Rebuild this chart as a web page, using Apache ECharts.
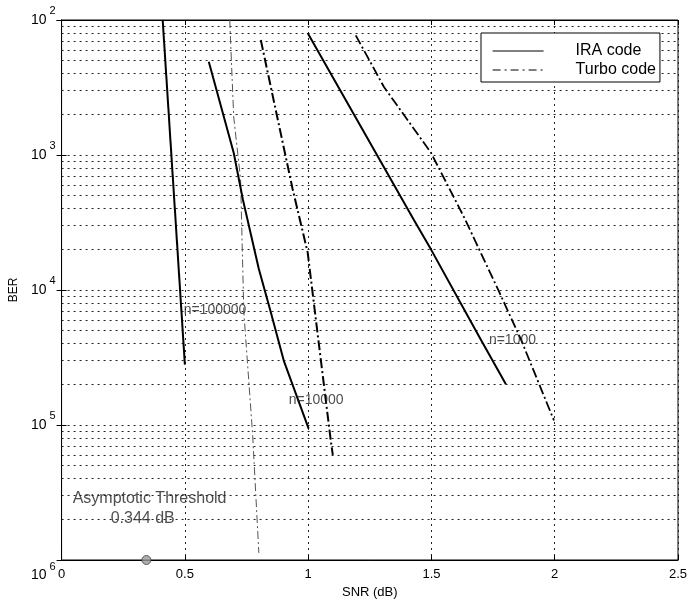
<!DOCTYPE html>
<html>
<head>
<meta charset="utf-8">
<script src="https://cdn.jsdelivr.net/npm/echarts@6/dist/echarts.min.js"></script>
<style>
html,body{margin:0;padding:0;background:#fff;}
#chart{width:691px;height:604px;}
</style>
</head>
<body>
<div id="chart"></div>
<script>
// ---- data ----
const snrIRA100k = [0.41, 0.50];
const berIRA100k = [1.0e-2, 2.8e-5];

const snrIRA10k = [0.597, 0.698, 0.735, 0.800, 0.848, 0.901, 1.002];
const berIRA10k = [4.9e-3, 1.04e-3, 4.7e-4, 1.43e-4, 6.9e-5, 3.0e-5, 9.4e-6];

const snrIRA1k = [0.998, 1.429, 1.498, 1.700, 1.802];
const berIRA1k = [8.0e-3, 3.3e-4, 2.0e-4, 4.3e-5, 2.0e-5];

const snrTurbo100k = [0.682, 0.698, 0.726, 0.739, 0.775, 0.800];
const berTurbo100k = [1.0e-2, 1.92e-3, 6.6e-4, 6.9e-5, 8.4e-6, 1.13e-6];

const snrTurbo10k = [0.808, 0.937, 0.998, 1.031, 1.092, 1.100];
const berTurbo10k = [7.1e-3, 5.6e-4, 1.9e-4, 6.1e-5, 7.6e-6, 6.0e-6];

const snrTurbo1k = [1.193, 1.307, 1.498, 1.631, 1.769, 1.863, 1.997];
const berTurbo1k = [7.7e-3, 3.2e-3, 1.04e-3, 3.5e-4, 1.02e-4, 4.3e-5, 1.08e-5];

const thresholdSNR = [0.344];
const thresholdBER = [1e-6];

const annotationTexts = ['n=100000', 'n=10000', 'n=1000', 'Asymptotic Threshold', '0.344 dB'];
const annotationX = [0.495, 0.921, 1.733, 0.045, 0.199];
const annotationY = [7.1e-5, 1.52e-5, 4.28e-5, 2.87e-6, 2.01e-6];

const xTicks = [0, 0.5, 1, 1.5, 2, 2.5];
const yMajorExponents = [2, 3, 4, 5, 6];   // shown as in the picture: 10^2 ... 10^6
const minorMantissas = [2, 3, 4, 5, 6, 7, 8, 9];
const minorDecades = [1e-6, 1e-5, 1e-4, 1e-3];

// ---- build ----
const pairs = (xs, ys) => xs.map((x, i) => [x, ys[i]]);
const minorGridValues = [];
minorDecades.forEach(d => minorMantissas.forEach(m => minorGridValues.push(+(m * d).toPrecision(3))));
const xMin = xTicks[0], xMax = xTicks[xTicks.length - 1];

const FONT = 'Liberation Sans, Arial, sans-serif';
const dashDot = [10, 3, 2, 3];
const gridDot = [2, 4];
const hiddenSymbol = {color: 'rgba(0,0,0,0)', borderWidth: 0, opacity: 0};

function lineSeries(name, xs, ys, width, type, color) {
  return {
    name: name, type: 'line', data: pairs(xs, ys), symbol: 'none',
    itemStyle: {color: color},
    lineStyle: {width: width, type: type, color: color}, z: 5, silent: true
  };
}

const chart = echarts.init(document.getElementById('chart'), null, {renderer: 'canvas'});
chart.setOption({
  animation: false,
  backgroundColor: '#fff',
  textStyle: {fontFamily: FONT},
  grid: {left: 61, top: 20, right: 13, bottom: 42, show: true, borderColor: '#000', borderWidth: 1, backgroundColor: 'transparent'},
  legend: {
    left: 481, top: 33, orient: 'vertical',
    backgroundColor: '#fff', borderColor: '#000', borderWidth: 1,
    padding: [10, 4, 4, 11],
    itemWidth: 51, itemHeight: 14, itemGap: 3,
    textStyle: {fontSize: 16, fontFamily: FONT, color: '#000', lineHeight: 16, padding: [0, 0, 0, 27]},
    selectedMode: false,
    data: [
      {name: 'IRA code', itemStyle: hiddenSymbol, lineStyle: {type: 'solid', width: 1.2, color: '#000'}},
      {name: 'Turbo code', itemStyle: hiddenSymbol, lineStyle: {type: [8, 4, 2, 4], width: 1.2, color: '#000'}}
    ]
  },
  xAxis: [{
    type: 'value', min: xMin, max: xMax, interval: 0.5,
    axisLine: {show: true, lineStyle: {color: '#000', width: 1}},
    axisTick: {show: true, inside: true, length: 5, lineStyle: {color: '#000'}},
    axisLabel: {fontSize: 13, color: '#000', margin: 8, fontFamily: FONT,
      formatter: v => String(v)},
    splitLine: {show: true, lineStyle: {type: gridDot, color: '#222', width: 1}},
    name: 'SNR (dB)', nameLocation: 'middle', nameGap: 26,
    nameTextStyle: {fontSize: 13, color: '#000', fontFamily: FONT}
  }, {
    type: 'value', min: xMin, max: xMax, interval: 0.5, position: 'top',
    axisLine: {show: true, lineStyle: {color: '#000'}},
    axisTick: {show: true, inside: true, length: 5, lineStyle: {color: '#000'}},
    axisLabel: {show: false}, splitLine: {show: false}
  }],
  yAxis: [{
    type: 'log', logBase: 10, min: 1e-6, max: 1e-2,
    axisLine: {show: true, lineStyle: {color: '#000', width: 1}},
    axisTick: {show: true, inside: true, length: 5, lineStyle: {color: '#000'}},
    axisLabel: {
      margin: 6, color: '#000', fontFamily: FONT,
      formatter: v => {
        const e = Math.round(-Math.log10(v));
        if (yMajorExponents.indexOf(e) < 0) return '';
        return e === 6 ? '{b|10}{t|' + e + '}' : '{a|10}{s|' + e + '}';
      },
      rich: {
        a: {fontSize: 14, color: '#000', fontFamily: FONT},
        s: {fontSize: 11, color: '#000', fontFamily: FONT, padding: [0, 0, 18, 3]},
        b: {fontSize: 14, color: '#000', fontFamily: FONT, padding: [30, 0, 0, 0]},
        t: {fontSize: 11, color: '#000', fontFamily: FONT, padding: [14, 0, 0, 3]}
      }
    },
    splitLine: {show: true, lineStyle: {type: gridDot, color: '#222', width: 1}},
    name: 'BER', nameLocation: 'middle', nameGap: 34, nameRotate: 90,
    nameTextStyle: {fontSize: 12, color: '#000', fontFamily: FONT}
  }, {
    type: 'log', logBase: 10, min: 1e-6, max: 1e-2, position: 'right',
    axisLine: {show: true, lineStyle: {color: '#000'}},
    axisTick: {show: true, inside: true, length: 5, lineStyle: {color: '#000'}},
    axisLabel: {show: false}, splitLine: {show: false}
  }],
  series: [
    {
      name: 'minor grid', type: 'lines', coordinateSystem: 'cartesian2d', silent: true, z: 1,
      polyline: false,
      lineStyle: {type: gridDot, color: '#222', width: 1, opacity: 1},
      data: minorGridValues.map(v => ({coords: [[xMin, v], [xMax, v]]}))
    },
    {
      name: 'notes', type: 'scatter', symbolSize: 0, silent: true, z: 7,
      data: annotationTexts.map((t, i) => ({
        name: t, value: [annotationX[i], annotationY[i]],
        label: {
          show: true, position: 'right', distance: 0, formatter: '{b}',
          fontFamily: FONT, color: '#222',
          fontSize: i >= 3 ? 16 : 14
        }
      }))
    },
    lineSeries('Turbo code', snrTurbo1k, berTurbo1k, 1.8, dashDot, '#000'),
    lineSeries('Turbo code', snrTurbo10k, berTurbo10k, 2, dashDot, '#000'),
    lineSeries('Turbo code', snrTurbo100k, berTurbo100k, 1, [8, 3, 2, 3], '#555'),
    lineSeries('IRA code', snrIRA100k, berIRA100k, 2, 'solid', '#000'),
    lineSeries('IRA code', snrIRA10k, berIRA10k, 2, 'solid', '#000'),
    lineSeries('IRA code', snrIRA1k, berIRA1k, 2, 'solid', '#000'),
    {
      name: 'threshold', type: 'scatter', data: pairs(thresholdSNR, thresholdBER),
      symbol: 'circle', symbolSize: 9, clip: false, silent: true, z: 6,
      itemStyle: {color: '#999', borderColor: '#444', borderWidth: 1}
    }
  ]
});
</script>
</body>
</html>
